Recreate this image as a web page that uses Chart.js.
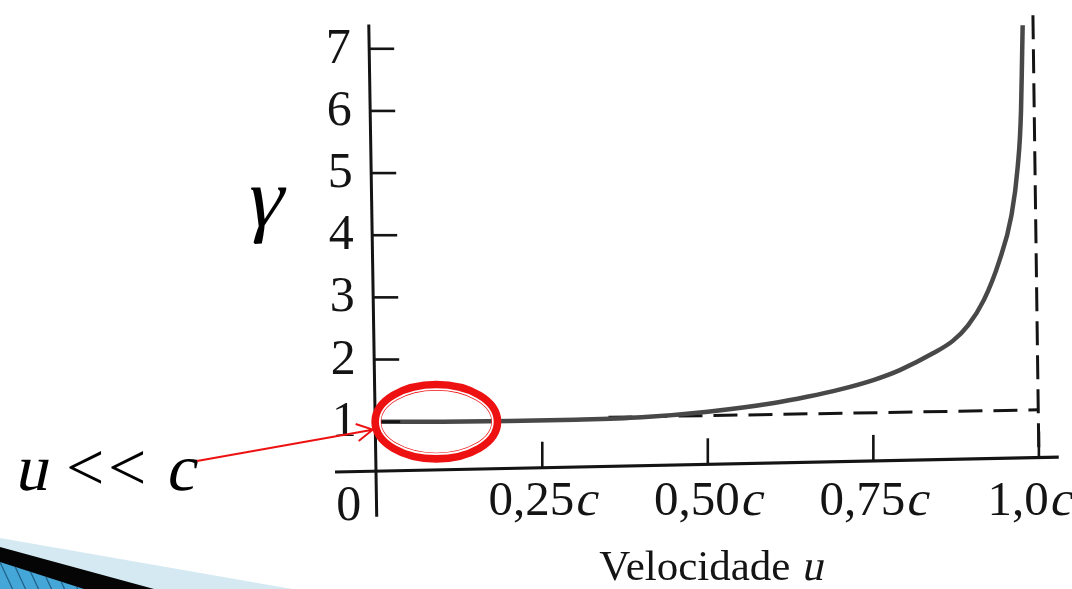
<!DOCTYPE html>
<html>
<head>
<meta charset="utf-8">
<script src="https://cdn.jsdelivr.net/npm/chart.js@4.4.0/dist/chart.umd.min.js"></script>
<style>
  html, body { margin: 0; padding: 0; background: #fff; }
  canvas { display: block; }
</style>
</head>
<body>
<canvas id="gammaChart" width="1072" height="589"></canvas>
<script>
// values (u in units of c)
const velocity = [0, 0.1, 0.2, 0.3, 0.4, 0.5, 0.6, 0.65, 0.7, 0.75, 0.79, 0.84, 0.87, 0.893, 0.917, 0.94, 0.958, 0.968, 0.973, 0.9745, 0.9755];
const gamma = [1.0, 1.0, 1.01, 1.03, 1.07, 1.16, 1.3, 1.4, 1.52, 1.67, 1.83, 2.1, 2.3, 2.55, 2.96, 3.58, 4.29, 5.1, 6.0, 6.8, 7.38];

// dashed guide lines (scan is slightly rotated, so they lean a bit)
const asymptoteU = [0.35, 1.0];
const asymptoteGamma = [1.07, 1.19];
const limitU = [0.991, 1.0];
const limitGamma = [7.54, 0.43];

const yTicks = [1, 2, 3, 4, 5, 6, 7];
const xTicks = [0.25, 0.5, 0.75, 1.0];
const xTickLabels = ['0,25', '0,50', '0,75', '1,0'];

const serif = '"Liberation Serif", "Times New Roman", serif';
const ink = '#141414';
const slant = -0.22;

function toPoints(xs, ys) {
    return xs.map((x, i) => ({x: x, y: ys[i]}));
}

const canvas = document.getElementById('gammaChart');

function drawDecoration(ctx) {
    // slide template swoosh in the lower left corner
    ctx.save();
    ctx.fillStyle = '#d4e9f2';
    ctx.beginPath();
    ctx.moveTo(0, 538); ctx.lineTo(292, 589); ctx.lineTo(0, 589); ctx.closePath();
    ctx.fill();
    ctx.fillStyle = '#050505';
    ctx.beginPath();
    ctx.moveTo(0, 547); ctx.lineTo(154, 589); ctx.lineTo(0, 589); ctx.closePath();
    ctx.fill();
    ctx.fillStyle = '#45a7d8';
    ctx.beginPath();
    ctx.moveTo(0, 562); ctx.lineTo(84, 589); ctx.lineTo(0, 589); ctx.closePath();
    ctx.fill();
    ctx.clip();
    ctx.strokeStyle = '#1f5f86';
    ctx.lineWidth = 1.2;
    for (let x = -40; x < 100; x += 13) {
        ctx.beginPath();
        ctx.moveTo(x, 560);
        ctx.lineTo(x + 14, 590);
        ctx.stroke();
    }
    ctx.restore();
}

// slanted serif text (the italic face is not reliable here)
function italicText(ctx, text, x, y, size) {
    ctx.save();
    ctx.font = size + 'px ' + serif;
    ctx.textAlign = 'left';
    ctx.translate(x, y);
    ctx.transform(1, 0, slant, 1, 0, 0);
    ctx.fillText(text, 0, 0);
    ctx.restore();
}

function mixedText(ctx, parts, x, y, align) {
    // parts: [text, italic, size]
    const widths = parts.map(p => {
        ctx.font = p[2] + 'px ' + serif;
        return ctx.measureText(p[0]).width;
    });
    const total = widths.reduce((a, b) => a + b, 0);
    let cx = align === 'center' ? x - total / 2 : (align === 'right' ? x - total : x);
    parts.forEach((p, i) => {
        if (p[1]) {
            italicText(ctx, p[0], cx, y, p[2]);
        } else {
            ctx.font = p[2] + 'px ' + serif;
            ctx.textAlign = 'left';
            ctx.fillText(p[0], cx, y);
        }
        cx += widths[i];
    });
    return total;
}

const figurePlugin = {
    id: 'figure',
    beforeDraw(chart) {
        const ctx = chart.ctx;
        ctx.save();
        ctx.fillStyle = '#ffffff';
        ctx.fillRect(0, 0, chart.width, chart.height);
        ctx.restore();
        drawDecoration(ctx);
    },
    afterDatasetsDraw(chart) {
        const ctx = chart.ctx;
        const xs = chart.scales.x;
        const ys = chart.scales.y;

        // axis lines, following the slight tilt of the scan
        const xa0 = {x: xs.getPixelForValue(-0.063), y: ys.getPixelForValue(0.19)};
        const xa1 = {x: xs.getPixelForValue(1.03), y: ys.getPixelForValue(0.43)};
        const ya0 = {x: xs.getPixelForValue(-0.012), y: ys.getPixelForValue(7.39)};
        const ya1 = {x: xs.getPixelForValue(0), y: ys.getPixelForValue(-0.53)};
        const xAxisY = px => xa0.y + (px - xa0.x) * (xa1.y - xa0.y) / (xa1.x - xa0.x);
        const yAxisX = py => ya0.x + (py - ya0.y) * (ya1.x - ya0.x) / (ya1.y - ya0.y);

        ctx.save();
        ctx.strokeStyle = ink;
        ctx.lineCap = 'butt';
        ctx.lineWidth = 3.2;
        ctx.beginPath();
        ctx.moveTo(xa0.x, xa0.y); ctx.lineTo(xa1.x, xa1.y);
        ctx.stroke();
        ctx.lineWidth = 3;
        ctx.beginPath();
        ctx.moveTo(ya0.x, ya0.y); ctx.lineTo(ya1.x, ya1.y);
        ctx.stroke();

        // inward tick marks
        ctx.lineWidth = 2.6;
        yTicks.forEach(v => {
            const py = ys.getPixelForValue(v);
            const px = yAxisX(py);
            ctx.beginPath();
            ctx.moveTo(px, py); ctx.lineTo(px + 25, py);
            ctx.stroke();
        });
        xTicks.forEach(v => {
            const px = xs.getPixelForValue(v);
            const py = xAxisY(px);
            ctx.beginPath();
            ctx.moveTo(px, py); ctx.lineTo(px, py - 26);
            ctx.stroke();
        });

        // tick labels
        ctx.fillStyle = ink;
        ctx.textBaseline = 'alphabetic';
        ctx.font = '50px ' + serif;
        ctx.textAlign = 'center';
        yTicks.forEach(v => {
            const py = ys.getPixelForValue(v);
            ctx.fillText(String(v), yAxisX(py) - 31, py + 14);
        });
        ctx.fillText('0', xs.getPixelForValue(0) - 28, 520);

        xTicks.forEach((v, i) => {
            let px = xs.getPixelForValue(v);
            if (i === xTicks.length - 1) px -= 10;
            mixedText(ctx, [[xTickLabels[i], false, 49], ['c', true, 49]], px, 515, 'center');
        });

        // axis titles
        mixedText(ctx, [['Velocidade ', false, 43], ['u', true, 43]], 711, 580, 'center');
        ctx.fillStyle = '#000';
        italicText(ctx, '\u03b3', 243, 226, 84);
        ctx.restore();

        // red annotation: double ellipse around the low-speed region
        const cx = xs.getPixelForValue(0.09);
        const cy = ys.getPixelForValue(1.0);
        ctx.save();
        ctx.strokeStyle = '#ee1111';
        ctx.lineWidth = 10;
        ctx.beginPath();
        ctx.ellipse(cx, cy, 60, 36, 0, 0, Math.PI * 2);
        ctx.stroke();
        ctx.strokeStyle = '#ffffff';
        ctx.lineWidth = 1.8;
        ctx.beginPath();
        ctx.ellipse(cx, cy, 56.5, 32.5, 0, 0, Math.PI * 2);
        ctx.stroke();

        // label with arrow
        ctx.fillStyle = '#000';
        ctx.textBaseline = 'alphabetic';
        italicText(ctx, 'u', 14, 490, 66);
        ctx.font = '68px ' + serif;
        ctx.textAlign = 'left';
        ctx.fillText('<', 66, 490);
        ctx.fillText('<', 108, 490);
        italicText(ctx, 'c', 165, 490, 66);

        const tipX = xs.getPixelForValue(0) - 4;
        const tipY = cy + 8;
        const fromX = 197, fromY = 461;
        const ang = Math.atan2(tipY - fromY, tipX - fromX);
        ctx.strokeStyle = '#ee1111';
        ctx.lineWidth = 2;
        ctx.beginPath();
        ctx.moveTo(fromX, fromY); ctx.lineTo(tipX, tipY);
        ctx.moveTo(tipX - 18 * Math.cos(ang - 0.5), tipY - 18 * Math.sin(ang - 0.5));
        ctx.lineTo(tipX, tipY);
        ctx.lineTo(tipX - 18 * Math.cos(ang + 0.5), tipY - 18 * Math.sin(ang + 0.5));
        ctx.stroke();
        ctx.restore();
    }
};

new Chart(canvas, {
    type: 'scatter',
    data: {
        datasets: [
            {
                label: 'gamma',
                data: toPoints(velocity, gamma),
                showLine: true,
                borderColor: '#484848',
                borderWidth: 4.5,
                pointRadius: 0,
                cubicInterpolationMode: 'monotone',
                clip: false
            },
            {
                label: 'asymptote',
                data: toPoints(asymptoteU, asymptoteGamma),
                showLine: true,
                borderColor: ink,
                borderWidth: 3,
                borderDash: [24, 11],
                pointRadius: 0,
                clip: false
            },
            {
                label: 'limit',
                data: toPoints(limitU, limitGamma),
                showLine: true,
                borderColor: ink,
                borderWidth: 3,
                borderDash: [24, 10],
                pointRadius: 0,
                clip: false
            }
        ]
    },
    options: {
        responsive: false,
        animation: false,
        events: [],
        layout: {padding: {left: 337, right: 0, top: 0, bottom: 117}},
        plugins: {legend: {display: false}, tooltip: {enabled: false}},
        scales: {
            x: {type: 'linear', min: -0.06, max: 1.05, display: false},
            y: {type: 'linear', min: 0.19, max: 7.785, display: false}
        }
    },
    plugins: [figurePlugin]
});
</script>
</body>
</html>
